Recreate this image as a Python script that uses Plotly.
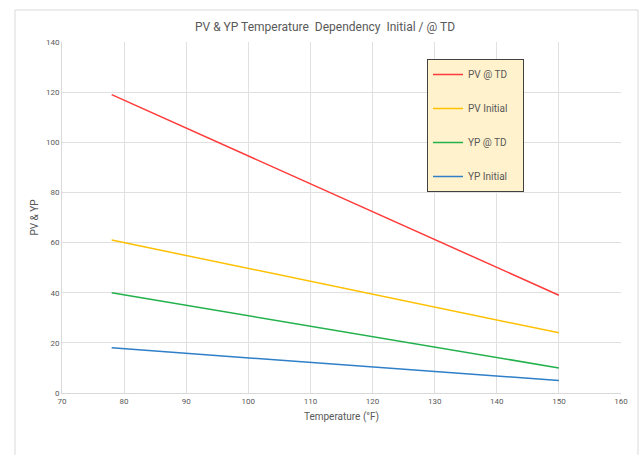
import plotly.graph_objects as go

temps = [78, 150]
pv_td = [119, 39]
pv_init = [61, 24]
yp_td = [40, 10]
yp_init = [18, 5]

series = [
    ("PV @ TD", pv_td, "#FF3B3B"),
    ("PV Initial", pv_init, "#FFC000"),
    ("YP @ TD", yp_td, "#22B14C"),
    ("YP Initial", yp_init, "#2E7FC8"),
]

font = "Roboto"
grey = "#595959"

fig = go.Figure()
for name, vals, col in series:
    fig.add_trace(go.Scatter(x=temps, y=vals, mode="lines", name=name + "\u00a0\u00a0\u00a0\u00a0",
                             legendgroup=name,
                             line=dict(color=col, width=1.5)))

fig.update_layout(
    width=641, height=455,
    margin=dict(l=62, r=20, t=42, b=62),
    paper_bgcolor="white", plot_bgcolor="white",
    font=dict(family=font, color=grey, size=9),
    title=dict(text="PV & YP Temperature  Dependency  Initial / @ TD",
               x=(325 / 641), xanchor="center", y=1 - 27 / 455, yanchor="middle",
               font=dict(size=12, color=grey, family=font)),
    xaxis=dict(range=[70, 160], dtick=10, tick0=70, showgrid=True,
               gridcolor="#E0E0E0", gridwidth=1, showline=True,
               linecolor="#D9D9D9", zeroline=False, ticks="",
               tickfont=dict(size=8, color=grey),
               title=dict(text="Temperature (°F)", font=dict(size=10, color=grey), standoff=8)),
    yaxis=dict(range=[0, 140], dtick=20, showgrid=True, gridcolor="#E0E0E0",
               gridwidth=1, showline=True, linecolor="#D9D9D9", zeroline=False,
               ticks="", tickfont=dict(size=8, color=grey),
               title=dict(text="PV & YP", font=dict(size=10, color=grey), standoff=5)),
    legend=dict(x=(427 - 62) / 559, y=(393 - 59) / 351, xanchor="left", yanchor="top",
                bgcolor="#FFF2CC", bordercolor="#404040", borderwidth=1,
                font=dict(size=10, color=grey), itemwidth=30,
                tracegroupgap=15, traceorder="grouped"),
    shapes=[dict(type="rect", xref="paper", yref="paper",
                 x0=(15 - 62) / 559, x1=(638 - 62) / 559,
                 y0=(393 - 470) / 351, y1=(393 - 10) / 351,
                 line=dict(color="#D9D9D9", width=1), fillcolor="rgba(0,0,0,0)",
                 layer="below")],
)

fig.write_html("out.html")
